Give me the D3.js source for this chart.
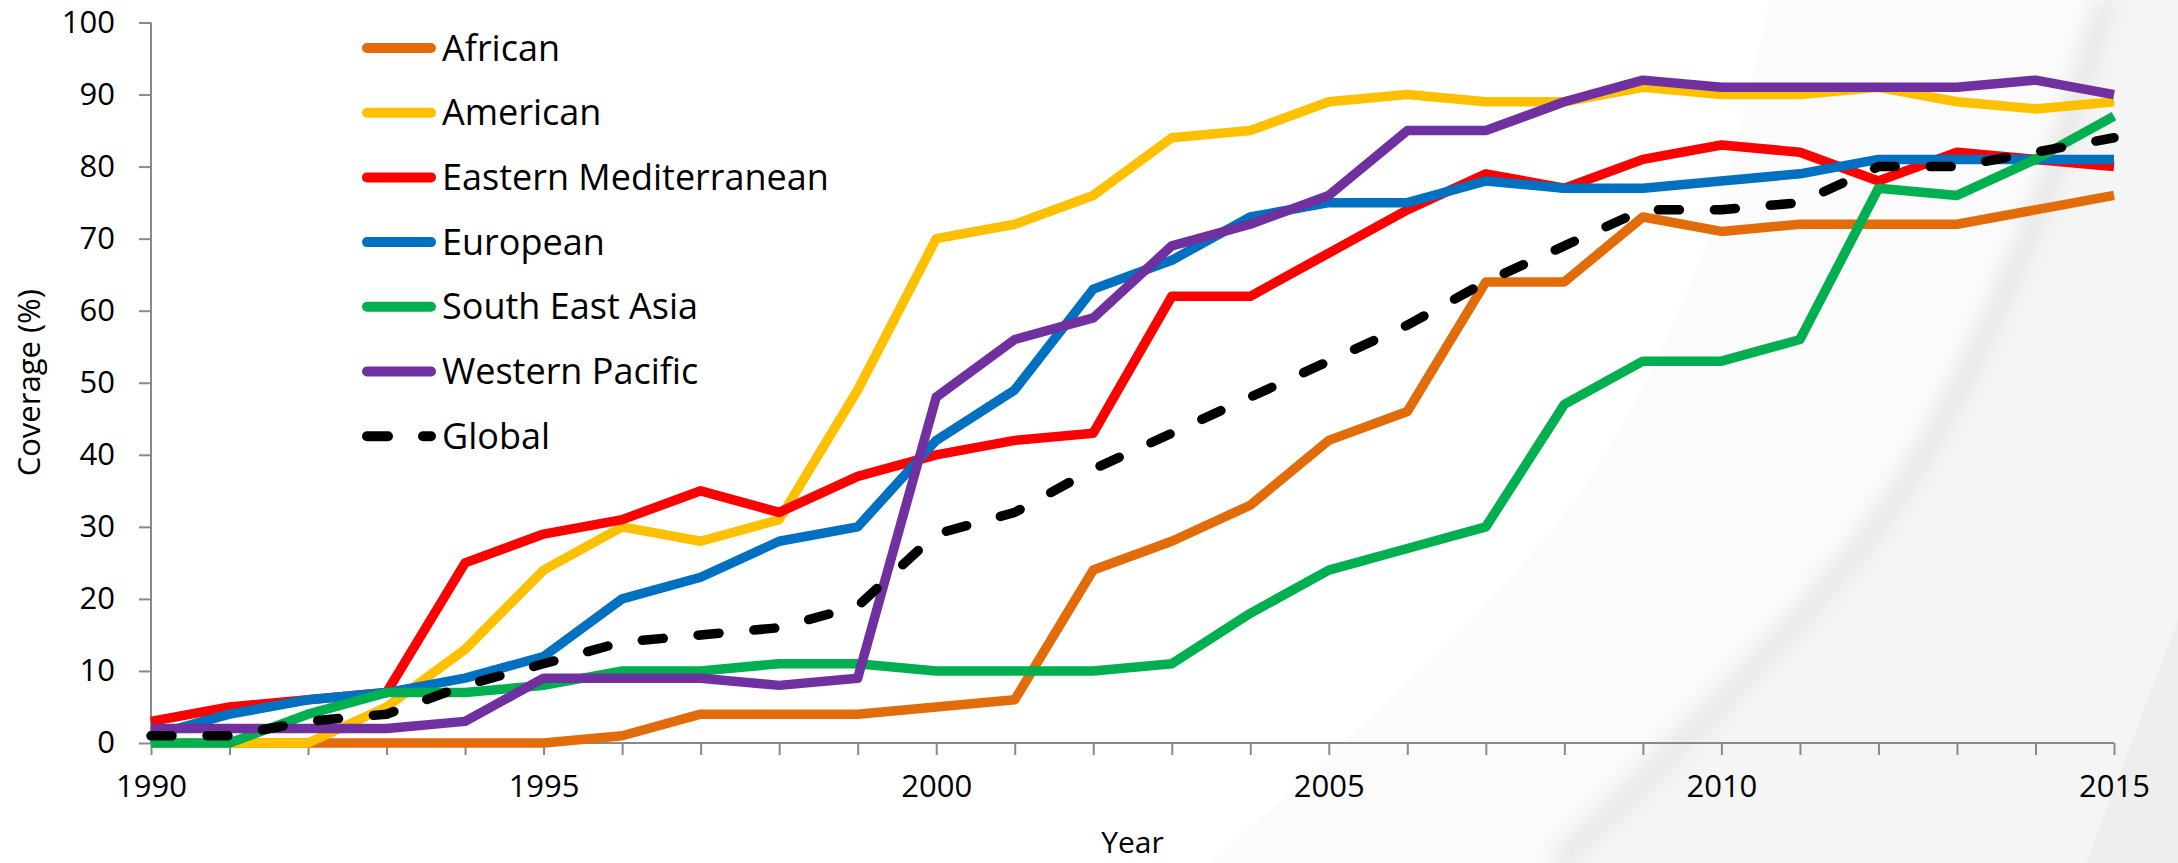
<!DOCTYPE html>
<html>
<head>
<meta charset="utf-8">
<script src="https://cdn.jsdelivr.net/npm/d3@7"></script>
<style>
  html, body { margin: 0; padding: 0; background: #ffffff; }
  svg { display: block; }
  text { font-family: "Open Sans", "Noto Sans", sans-serif; fill: #000; }
</style>
</head>
<body>
<svg id="chart" width="2178" height="863"></svg>
<script>
// Coverage by WHO region, 1990-2015 (%)
const years = d3.range(1990, 2016);

const african      = [0,0,0,0,0,0,1,4,4,4,5,6,24,28,33,42,46,64,64,73,71,72,72,72,74,76];
const american     = [0,0,0,5,13,24,30,28,31,49,70,72,76,84,85,89,90,89,89,91,90,90,91,89,88,89];
const easternMed   = [3,5,6,7,25,29,31,35,32,37,40,42,43,62,62,68,74,79,77,81,83,82,78,82,81,80];
const european     = [1,4,6,7,9,12,20,23,28,30,42,49,63,67,73,75,75,78,77,77,78,79,81,81,81,81];
const southEastAsia= [0,0,4,7,7,8,10,10,11,11,10,10,10,11,18,24,27,30,47,53,53,56,77,76,81,87];
const westernPac   = [2,2,2,2,3,9,9,9,8,9,48,56,59,69,72,76,85,85,89,92,91,91,91,91,92,90];
const globalCov    = [1,1,3,4,8,11,14,15,16,19,29,32,38,43,48,53,58,64,69,74,74,75,80,80,82,84];

const seriesNames  = ["African","American","Eastern Mediterranean","European","South East Asia","Western Pacific","Global"];
const seriesValues = [african, american, easternMed, european, southEastAsia, westernPac, globalCov];
const seriesColors = ["#E36C0A","#FFC000","#FF0000","#0070C0","#00B050","#7030A0","#000000"];

const yTicks = [0,10,20,30,40,50,60,70,80,90,100];
const xLabelYears = [1990,1995,2000,2005,2010,2015];

const svg = d3.select("#chart");

// --- soft decorative swoosh in the background ---
const bg = svg.append("g");
const defs = svg.append("defs");
defs.append("filter").attr("id","soft").append("feGaussianBlur").attr("stdDeviation", 10);
const curve = d3.line().curve(d3.curveCatmullRom.alpha(0.5));

const arc1 = [[1770,0],[1700,260],[1560,520],[1210,863]];
const arc2 = [[2105,0],[2030,230],[1880,520],[1556,863]];
const arc3 = [[2178,620],[2086,863]];

bg.append("path")
  .attr("d", curve(arc1) + "L2178,863L2178,0Z")
  .attr("fill", "#fbfbfb");
bg.append("path")
  .attr("d", curve(arc2) + "L2178,863L2178,0Z")
  .attr("fill", "#f5f5f5");
bg.append("path")
  .attr("d", curve(arc2))
  .attr("fill", "none").attr("stroke", "#e6e6e6").attr("stroke-width", 20)
  .attr("filter", "url(#soft)");
bg.append("path")
  .attr("d", "M" + arc3.join("L") + "L2178,863Z")
  .attr("fill", "#eeeeee");

// --- scales ---
const x = d3.scaleLinear().domain([1990, 2015]).range([151, 2114]);
const y = d3.scaleLinear().domain([0, 100]).range([743, 22.5]);

const axisColor = "#898989";

// y axis
const yAxis = svg.append("g").attr("transform", "translate(151,0)")
  .call(d3.axisLeft(y).tickValues(yTicks).tickSize(12).tickPadding(24).tickFormat(d3.format("d")));
yAxis.select(".domain").attr("stroke", axisColor).attr("stroke-width", 2).attr("d", `M0,${y(0)}V${y(100)}`);
yAxis.selectAll(".tick line").attr("stroke", axisColor).attr("stroke-width", 2);
yAxis.selectAll(".tick text").attr("font-size", 31).attr("font-family", '"Open Sans", sans-serif').attr("fill", "#000");

// x axis: a tick every year, labels every five years
const xAxis = svg.append("g").attr("transform", `translate(0,${y(0)})`)
  .call(d3.axisBottom(x).tickValues(years).tickSize(12).tickPadding(20)
    .tickFormat(d => xLabelYears.includes(d) ? String(d) : ""));
xAxis.select(".domain").attr("stroke", axisColor).attr("stroke-width", 2).attr("d", `M${x(1990)},0H${x(2015)}`);
xAxis.selectAll(".tick line").attr("stroke", axisColor).attr("stroke-width", 2);
xAxis.selectAll(".tick text").attr("font-size", 31).attr("font-family", '"Open Sans", sans-serif').attr("fill", "#000");

// axis titles
svg.append("text")
  .attr("transform", `translate(40,${(y(0) + y(100)) / 2}) rotate(-90)`)
  .attr("text-anchor", "middle")
  .attr("font-size", 31)
  .text("Coverage (%)");
svg.append("text")
  .attr("x", (x(1990) + x(2015)) / 2)
  .attr("y", 853)
  .attr("text-anchor", "middle")
  .attr("font-size", 30)
  .text("Year");

// --- lines ---
const line = d3.line()
  .x((d, i) => x(years[i]))
  .y(d => y(d))
  .curve(d3.curveLinear);

const lines = svg.append("g");
seriesValues.forEach((vals, k) => {
  const isGlobal = seriesNames[k] === "Global";
  lines.append("path")
    .datum(vals)
    .attr("d", line)
    .attr("fill", "none")
    .attr("stroke", seriesColors[k])
    .attr("stroke-width", 9.5)
    .attr("stroke-linejoin", "round")
    .attr("stroke-linecap", isGlobal ? "round" : "butt")
    .attr("stroke-dasharray", isGlobal ? "21,35" : null);
});

// --- legend ---
const legend = svg.append("g");
seriesNames.forEach((name, k) => {
  const ly = 48 + k * 64.7;
  const isGlobal = name === "Global";
  legend.append("line")
    .attr("x1", 367).attr("x2", 431).attr("y1", ly).attr("y2", ly)
    .attr("stroke", seriesColors[k])
    .attr("stroke-width", 10)
    .attr("stroke-linecap", "round")
    .attr("stroke-dasharray", isGlobal ? "21,35" : null);
  legend.append("text")
    .attr("x", 442).attr("y", ly)
    .attr("dy", "0.35em")
    .attr("font-size", 36)
    .text(name);
});
</script>
</body>
</html>
